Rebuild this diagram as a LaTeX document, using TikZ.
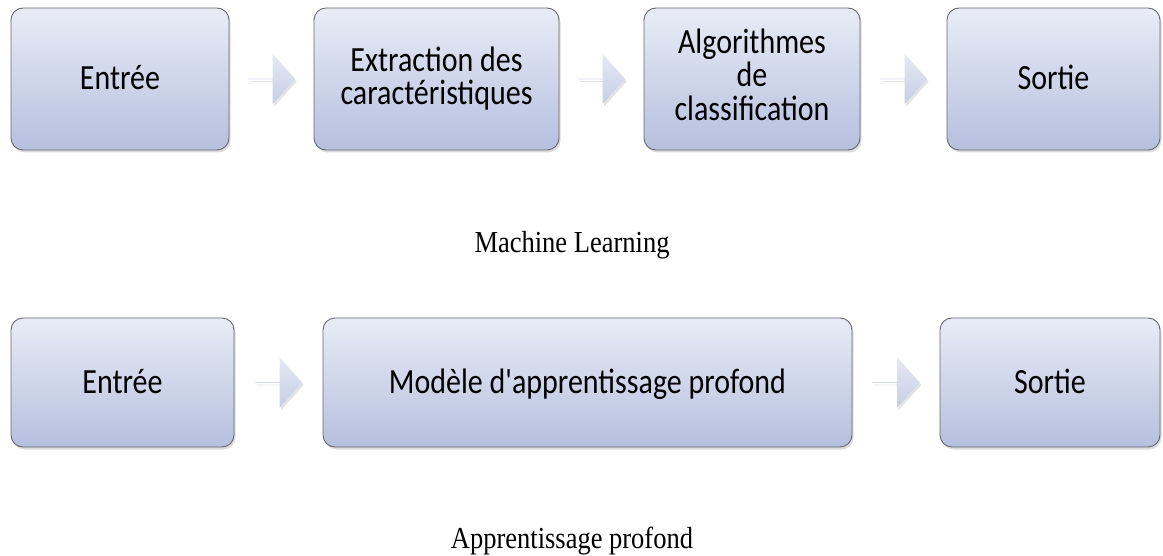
\documentclass[tikz,border=0pt]{standalone}
\usepackage{fontspec}
\usepackage{graphicx}
\setmainfont{Liberation Serif}
\newfontfamily\boxfont{Carlito}
\usetikzlibrary{shapes.arrows,shadows,calc}

\definecolor{boxtop}{RGB}{233,236,246}
\definecolor{boxbottom}{RGB}{181,192,223}
\definecolor{boxline}{RGB}{105,105,110}
\definecolor{arrowtop}{RGB}{230,233,245}
\definecolor{arrowbottom}{RGB}{198,205,229}

% box labels: centred lines, slightly tall lettering, optional drop
\newcommand\stagetext[2][3pt]{\raisebox{-#1}[\height][\depth]{\scalebox{1}[1.18]{\begin{tabular}{@{}c@{}}#2\end{tabular}}}}
\newcommand\captext[1]{\scalebox{1}[1.15]{#1}}

\tikzset{
  stage/.style={draw=boxline, line width=0.9pt, rounded corners=12pt,
    top color=boxtop, bottom color=boxbottom,
    drop shadow={opacity=0.28, shadow xshift=1.5pt, shadow yshift=-2.5pt},
    align=center, inner sep=0pt,
    font=\boxfont\fontsize{30}{25.5}\selectfont},
  flowarrow/.style={single arrow, draw=none, minimum width=50pt,
    minimum height=47pt, single arrow head extend=10pt, inner sep=0pt,
    single arrow tip angle=96,
    top color=arrowtop, bottom color=arrowbottom,
    drop shadow={opacity=0.22, shadow xshift=1.5pt, shadow yshift=-2.5pt}},
  caption/.style={font=\fontsize{26.5}{30}\selectfont, inner sep=0pt}
}

\begin{document}
\begin{tikzpicture}[x=1pt,y=-1pt]
\useasboundingbox (0,0) rectangle (1163,556);

% Classical machine-learning pipeline
\node[stage, minimum width=218pt, minimum height=142pt] (in1) at (120,79) {\stagetext{Entrée}};
\node[stage, minimum width=245pt, minimum height=142pt] (feat) at (436.5,79) {\stagetext[1pt]{Extraction des\\caractéristiques}};
\node[stage, minimum width=216pt, minimum height=142pt] (algo) at (752,79) {\stagetext[0pt]{Algorithmes\\de\\classification}};
\node[stage, minimum width=213pt, minimum height=142pt] (out1) at (1053.5,79) {\stagetext{Sortie}};

\node[flowarrow] (a1) at ($(in1.east)!0.5!(feat.west)$) {};
\node[flowarrow] (a2) at ($(feat.east)!0.5!(algo.west)$) {};
\node[flowarrow] (a3) at ($(algo.east)!0.5!(out1.west)$) {};

\node[caption, anchor=base] (cap1) at (572,253) {\captext{Machine Learning}};

% Deep-learning pipeline
\node[stage, minimum width=223pt, minimum height=129pt] (in2) at (122.5,382.5) {\stagetext{Entrée}};
\node[stage, minimum width=529pt, minimum height=129pt] (deep) at (587.5,382.5) {\stagetext{Modèle d'apprentissage profond}};
\node[stage, minimum width=220pt, minimum height=129pt] (out2) at (1050,382.5) {\stagetext{Sortie}};

\node[flowarrow] (b1) at ($(in2.east)!0.5!(deep.west)$) {};
\node[flowarrow] (b2) at ($(deep.east)!0.5!(out2.west)$) {};

\node[caption, anchor=base] (cap2) at (572,548) {\captext{Apprentissage profond}};
\end{tikzpicture}
\end{document}
